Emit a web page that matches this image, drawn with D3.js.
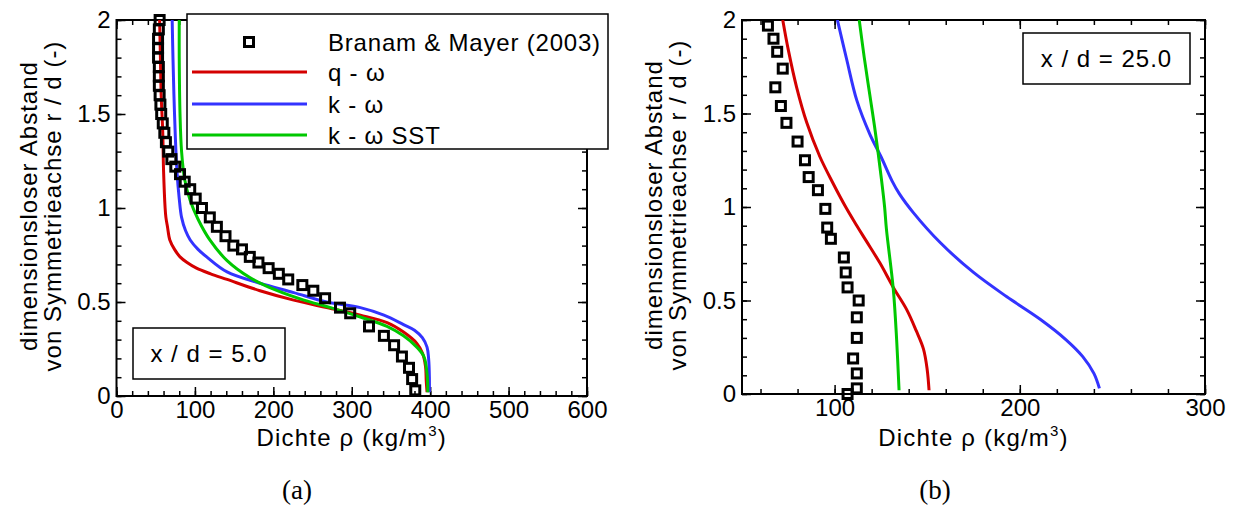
<!DOCTYPE html>
<html>
<head>
<meta charset="utf-8">
<script src="https://cdn.jsdelivr.net/npm/d3@7"></script>
<style>
  body { margin: 0; background: #fff; }
  svg { display: block; }
  text { font-family: "Liberation Sans", Arial, sans-serif; fill: #000; }
</style>
</head>
<body>
<svg id="chart" width="1236" height="506"></svg>
<script>
// ---- data: [density rho (kg/m3), r/d] ----
// panel (a), x/d = 5.0
var bmA = [[55,2.00],[54,1.95],[53,1.90],[53,1.85],[53,1.80],[54,1.75],[54,1.70],[54,1.65],[55,1.60],
  [56,1.55],[57,1.50],[59,1.45],[61,1.40],[63,1.35],[66,1.30],[70,1.26],[75,1.22],[81,1.18],[87,1.14],
  [94,1.10],[101,1.05],[109,1.00],[119,0.95],[128,0.90],[139,0.85],[149,0.80],[160,0.78],[170,0.74],
  [181,0.71],[194,0.68],[207,0.65],[219,0.62],[237,0.59],[251,0.56],[266,0.52],[285,0.47],[298,0.44],
  [322,0.37],[341,0.32],[354,0.27],[364,0.21],[373,0.15],[377,0.09],[381,0.03]];
var qwA = [[55,2.0],[56,1.8],[57,1.6],[59,1.4],[60,1.2],[62,1.0],[63,0.95],[65,0.9],[68,0.83],[74,0.78],
  [81,0.74],[90,0.71],[102,0.68],[120,0.65],[141,0.62],[183,0.56],[226,0.51],[268,0.47],[311,0.43],
  [345,0.39],[366,0.34],[383,0.28],[390,0.23],[394,0.16],[395,0.08],[396,0.02]];
var kwA = [[71,2.0],[72,1.8],[74,1.5],[77,1.2],[80,1.05],[83,0.95],[88,0.88],[94,0.83],[104,0.78],
  [115,0.74],[141,0.66],[183,0.60],[226,0.55],[268,0.50],[311,0.47],[341,0.43],[366,0.38],[380,0.35],
  [390,0.31],[396,0.26],[398,0.20],[399,0.10],[399,0.02]];
var sstA = [[80,2.0],[80,1.8],[81,1.5],[83,1.3],[87,1.15],[94,1.04],[104,0.94],[119,0.83],[141,0.72],
  [170,0.63],[205,0.56],[239,0.51],[273,0.47],[311,0.42],[345,0.37],[366,0.32],[383,0.26],[392,0.21],
  [396,0.12],[397,0.02]];

// panel (b), x/d = 25.0
var bmB = [[64,1.97],[67,1.90],[69,1.83],[72,1.74],[68,1.64],[71,1.54],[74,1.45],[80,1.35],[84,1.25],
  [86,1.16],[91,1.09],[95,0.99],[96,0.89],[98,0.83],[105,0.73],[106,0.65],[107,0.57],[113,0.50],
  [112,0.41],[112,0.30],[110,0.19],[112,0.11],[112,0.03],[107,0.00]];
var qwB = [[72,2.0],[75,1.84],[79.5,1.64],[85,1.45],[92,1.27],[99,1.13],[106,1.0],[112,0.9],[117,0.82],
  [124.5,0.70],[131.7,0.57],[139,0.45],[144,0.34],[148,0.24],[150,0.13],[151,0.02]];
var kwB = [[101.5,2.0],[106.5,1.79],[112,1.57],[119,1.39],[125,1.27],[131,1.14],[135,1.07],[142.5,0.97],
  [157,0.81],[175,0.65],[193,0.52],[211,0.40],[225,0.29],[234,0.20],[240,0.11],[243,0.03]];
var sstB = [[113.3,2.0],[116,1.8],[119,1.6],[122,1.4],[125.4,1.14],[127,1.0],[128,0.88],[131.7,0.56],
  [133.5,0.29],[134.8,0.02]];

var seriesNames = ["Branam & Mayer (2003)", "q - ω", "k - ω", "k - ω SST"];
var ticksAx = [0, 100, 200, 300, 400, 500, 600];
var ticksBx = [100, 200, 300];
var ticksY = [0, 0.5, 1, 1.5, 2];

var colors = ["#000", "#d40000", "#3333ff", "#00c800"];

var svg = d3.select("#chart");

var panels = [
  { id: "a", left: 116.5, right: 587, top: 20, bottom: 396, xDomain: [0, 600],
    xMinor: d3.range(0, 601, 20), xMajor: ticksAx,
    lines: [qwA, kwA, sstA], points: bmA, tag: "(a)", tagX: 297,
    note: "x / d = 5.0", noteBox: [133, 328, 152, 51] },
  { id: "b", left: 742, right: 1205, top: 20, bottom: 394, xDomain: [50, 300],
    xMinor: d3.range(60, 301, 20), xMajor: ticksBx,
    lines: [qwB, kwB, sstB], points: bmB, tag: "(b)", tagX: 935,
    note: "x / d = 25.0", noteBox: [1023, 33, 167, 51] }
];

var yMinor = d3.range(0, 21).map(function(i) { return i / 10; });

function square(sel, size) {
  sel.append("rect")
    .attr("x", -size / 2).attr("y", -size / 2)
    .attr("width", size).attr("height", size)
    .attr("fill", "none").attr("stroke", "#000").attr("stroke-width", 3);
}

panels.forEach(function(p) {
  var x = d3.scaleLinear().domain(p.xDomain).range([p.left, p.right]);
  var y = d3.scaleLinear().domain([0, 2]).range([p.bottom, p.top]);
  var g = svg.append("g").attr("class", "panel-" + p.id);

  g.append("clipPath").attr("id", "clip-" + p.id)
    .append("rect").attr("x", p.left).attr("y", p.top)
    .attr("width", p.right - p.left).attr("height", p.bottom - p.top);

  // ticks on all four sides, pointing inward
  function ax(gen, tx, ty, vals, size, labels, pad) {
    var a = gen.tickValues(vals).tickSize(-size).tickPadding(pad || 5)
      .tickFormat(labels ? function(d) { return String(d); } : "");
    var s = g.append("g").attr("transform", "translate(" + tx + "," + ty + ")").call(a);
    s.select(".domain").remove();
    s.selectAll(".tick line").attr("stroke", "#000").attr("stroke-width", 1.5);
    s.selectAll(".tick text").attr("font-size", 24).attr("font-family", "Liberation Sans, Arial, sans-serif");
    return s;
  }
  ax(d3.axisBottom(x), 0, p.bottom, p.xMinor, 5, false);
  ax(d3.axisBottom(x), 0, p.bottom, p.xMajor, 9, true, 5);
  ax(d3.axisTop(x), 0, p.top, p.xMinor, 5, false);
  ax(d3.axisTop(x), 0, p.top, p.xMajor, 9, false);
  ax(d3.axisLeft(y), p.left, 0, yMinor, 5, false);
  ax(d3.axisLeft(y), p.left, 0, ticksY, 9, true, 6);
  ax(d3.axisRight(y), p.right, 0, yMinor, 5, false);
  ax(d3.axisRight(y), p.right, 0, ticksY, 9, false);

  g.append("rect").attr("x", p.left).attr("y", p.top)
    .attr("width", p.right - p.left).attr("height", p.bottom - p.top)
    .attr("fill", "none").attr("stroke", "#000").attr("stroke-width", 2);

  var line = d3.line()
    .x(function(d) { return x(d[0]); })
    .y(function(d) { return y(d[1]); })
    .curve(d3.curveCatmullRom.alpha(0.5));

  g.append("g").attr("clip-path", "url(#clip-" + p.id + ")")
    .selectAll("path").data(p.lines).enter().append("path")
    .attr("d", line)
    .attr("fill", "none")
    .attr("stroke", function(d, i) { return colors[i + 1]; })
    .attr("stroke-width", 3);

  g.append("g").selectAll("g").data(p.points).enter().append("g")
    .attr("transform", function(d) { return "translate(" + x(d[0]) + "," + y(d[1]) + ")"; })
    .each(function() { square(d3.select(this), 9); });

  // axis titles
  var cx = (p.left + p.right) / 2, cy = (p.top + p.bottom) / 2;
  var xt = g.append("text").attr("x", cx).attr("y", 446)
    .attr("text-anchor", "middle").attr("font-size", 24).attr("letter-spacing", 1.2);
  xt.append("tspan").text("Dichte ρ (kg/m");
  xt.append("tspan").attr("font-size", 15).attr("dy", -10).text("3");
  xt.append("tspan").attr("dy", 10).text(")");

  g.append("text").attr("transform", "translate(" + (p.left - 80) + "," + (cy - 2) + ") rotate(-90)")
    .attr("text-anchor", "middle").attr("font-size", 24).attr("letter-spacing", 1)
    .text("dimensionsloser Abstand");
  g.append("text").attr("transform", "translate(" + (p.left - 56) + "," + (cy - 2) + ") rotate(-90)")
    .attr("text-anchor", "middle").attr("font-size", 24).attr("letter-spacing", 1)
    .text("von Symmetrieachse r / d (-)");

  // annotation box
  var b = p.noteBox;
  g.append("rect").attr("x", b[0]).attr("y", b[1]).attr("width", b[2]).attr("height", b[3])
    .attr("fill", "#fff").attr("stroke", "#000").attr("stroke-width", 1.5);
  g.append("text").attr("x", b[0] + b[2] / 2).attr("y", b[1] + b[3] / 2)
    .attr("dy", "0.36em").attr("text-anchor", "middle").attr("font-size", 24)
    .attr("letter-spacing", 1).text(p.note);

  g.append("text").attr("x", p.tagX).attr("y", 499).attr("text-anchor", "middle")
    .attr("font-size", 27).style("font-family", "'Liberation Serif', 'DejaVu Serif', serif")
    .text(p.tag);
});

// legend in panel (a)
var lg = svg.append("g").attr("class", "legend");
lg.append("rect").attr("x", 187).attr("y", 14).attr("width", 421).attr("height", 135)
  .attr("fill", "#fff").attr("stroke", "#000").attr("stroke-width", 1.5);
var rowsY = [42, 72, 104, 135];
seriesNames.forEach(function(name, i) {
  if (i === 0) {
    lg.append("g").attr("transform", "translate(249," + rowsY[i] + ")")
      .call(function(s) { square(s, 9); });
  } else {
    lg.append("line").attr("x1", 192).attr("x2", 307)
      .attr("y1", rowsY[i]).attr("y2", rowsY[i])
      .attr("stroke", colors[i]).attr("stroke-width", 3);
  }
  lg.append("text").attr("x", 328).attr("y", rowsY[i]).attr("dy", "0.36em")
    .attr("font-size", 24).attr("letter-spacing", 0.8).text(name);
});
</script>
</body>
</html>
